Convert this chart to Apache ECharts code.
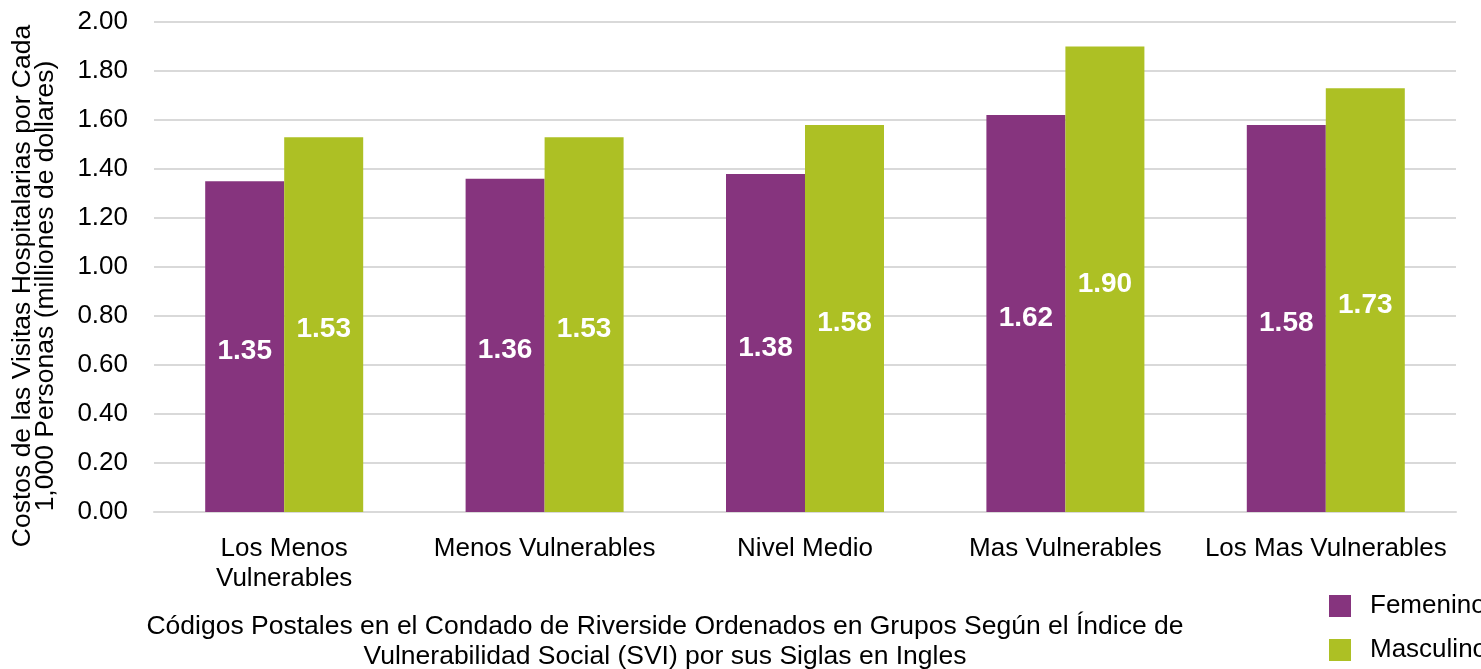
<!DOCTYPE html>
<html>
<head>
<meta charset="utf-8">
<script src="https://cdn.jsdelivr.net/npm/echarts@6/dist/echarts.min.js"></script>
<style>
  html, body { margin: 0; padding: 0; background: #fff; }
  #chart { width: 1481px; height: 669px; }
</style>
</head>
<body>
<div id="chart"></div>
<script>
  // categories (SVI groups) and values per sex
  const categories = ['Los Menos\nVulnerables', 'Menos Vulnerables', 'Nivel Medio', 'Mas Vulnerables', 'Los Mas Vulnerables'];
  const femenino = [1.35, 1.36, 1.38, 1.62, 1.58];
  const masculino = [1.53, 1.53, 1.58, 1.90, 1.73];
  const seriesNames = ['Femenino', 'Masculino'];

  const font = 'Arial, "Liberation Sans", sans-serif';
  const myChart = echarts.init(document.getElementById('chart'));

  const valueLabel = {
    show: true,
    position: 'inside',
    offset: [0, 5],
    color: '#fff',
    fontSize: 28,
    fontWeight: 'bold',
    fontFamily: font,
    formatter: p => p.value.toFixed(2)
  };

  const option = {
    animation: false,
    textStyle: { fontFamily: font },
    title: {
      text: 'Códigos Postales en el Condado de Riverside Ordenados en Grupos Según el Índice de\nVulnerabilidad Social (SVI) por sus Siglas en Ingles',
      left: 665,
      top: 612,
      padding: 0,
      textAlign: 'center',
      textStyle: { fontSize: 26.5, fontWeight: 'normal', color: '#000', lineHeight: 30, fontFamily: font }
    },
    legend: {
      orient: 'vertical',
      left: 1329,
      top: 593,
      padding: 0,
      itemWidth: 22,
      itemHeight: 22,
      itemGap: 18,
      icon: 'rect',
      data: seriesNames,
      textStyle: { fontSize: 26, color: '#000', lineHeight: 22, padding: [0, 0, 0, 14], fontFamily: font }
    },
    grid: { left: 154, right: 25, top: 22, bottom: 157, outerBoundsMode: 'none' },
    xAxis: {
      type: 'category',
      data: categories,
      axisLine: { lineStyle: { color: '#d9d9d9', width: 2 } },
      axisTick: { show: false },
      axisLabel: { fontSize: 26, color: '#000', lineHeight: 30, margin: 22, interval: 0, fontFamily: font }
    },
    yAxis: {
      type: 'value',
      min: 0,
      max: 2,
      interval: 0.2,
      name: 'Costos de las Visitas Hospitalarias por Cada\n1,000 Personas (milliones de dollares)',
      nameLocation: 'middle',
      nameGap: 97,
      nameTextStyle: { fontSize: 26.5, color: '#000', lineHeight: 23, padding: [0, 38, 0, 0], fontFamily: font },
      axisLine: { show: false },
      axisTick: { show: false },
      splitLine: { lineStyle: { color: '#d9d9d9', width: 2 } },
      axisLabel: { fontSize: 26, color: '#000', margin: 26, formatter: v => v.toFixed(2), fontFamily: font }
    },
    series: [
      {
        name: seriesNames[0],
        type: 'bar',
        data: femenino,
        barWidth: 79,
        barGap: '0%',
        itemStyle: { color: '#86347e' },
        label: valueLabel
      },
      {
        name: seriesNames[1],
        type: 'bar',
        data: masculino,
        barWidth: 79,
        itemStyle: { color: '#adc024' },
        label: valueLabel
      }
    ]
  };
  myChart.setOption(option);
</script>
</body>
</html>
